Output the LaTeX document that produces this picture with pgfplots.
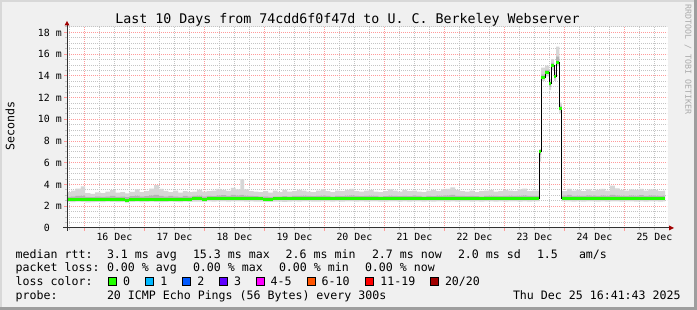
\documentclass[border=0pt]{standalone}
\usepackage{fontspec}
\setmainfont{DejaVu Sans Mono}
\usepackage{pgfplots}
\pgfplotsset{compat=1.18}
\usepackage{pgfplotstable}
\definecolor{bgc}{HTML}{F0F0F0}
\definecolor{shA}{HTML}{D8D8D8}
\definecolor{shB}{HTML}{9E9E9E}
\definecolor{axc}{HTML}{303030}
\definecolor{arrc}{HTML}{A10000}
\definecolor{mgrid}{HTML}{FF9A9A}
\definecolor{ngrid}{HTML}{C4C4C4}
\definecolor{smokeA}{HTML}{D6D6D6}
\definecolor{smokeB}{HTML}{B4B4B4}
\definecolor{lgreen}{HTML}{22FF00}
\definecolor{lc1}{HTML}{00B8FF}
\definecolor{lc2}{HTML}{0059FF}
\definecolor{lc3}{HTML}{5E00FF}
\definecolor{lc4}{HTML}{FF00FF}
\definecolor{lc5}{HTML}{FF5500}
\definecolor{lc6}{HTML}{FF0000}
\definecolor{lc7}{HTML}{A10000}
\definecolor{wmc}{HTML}{ABABAB}
\newcommand\lfont{\fontsize{11.6}{13}\selectfont}
\newcommand\tfont{\fontsize{9.9}{11}\selectfont}
\newcommand\ttlfont{\fontsize{13.3}{15}\selectfont}

\pgfplotstableread{
x lo q1 q3 hi med
-0.29 2.40 2.52 2.86 3.30 2.63
-0.22 2.38 2.53 2.92 3.45 2.62
-0.15 2.42 2.55 2.95 3.62 2.64
-0.06 2.40 2.54 2.98 3.82 2.63
0.01 2.36 2.52 2.88 3.20 2.62
0.10 2.38 2.54 2.84 3.15 2.63
0.18 2.41 2.55 2.90 3.28 2.63
0.27 2.37 2.53 2.86 3.22 2.62
0.35 2.42 2.56 2.92 3.35 2.64
0.43 2.40 2.55 2.95 3.48 2.64
0.52 2.38 2.54 2.87 3.25 2.63
0.60 2.41 2.56 2.90 3.30 2.64
0.68 2.33 2.50 2.85 3.18 2.55
0.75 2.40 2.55 2.93 3.32 2.64
0.84 2.42 2.57 2.98 3.55 2.65
0.92 2.39 2.55 2.90 3.30 2.63
1.00 2.41 2.56 2.94 3.40 2.64
1.08 2.42 2.57 3.00 3.62 2.65
1.16 2.41 2.57 3.05 3.95 2.65
1.24 2.39 2.56 2.95 3.60 2.64
1.32 2.40 2.57 2.92 3.42 2.65
1.40 2.42 2.58 2.96 3.30 2.65
1.48 2.40 2.57 2.90 3.45 2.64
1.56 2.38 2.55 2.88 3.25 2.63
1.64 2.42 2.58 2.96 3.40 2.66
1.72 2.40 2.57 2.92 3.30 2.65
1.80 2.43 2.59 2.95 3.35 2.67
1.88 2.42 2.60 2.98 3.50 2.68
1.96 2.40 2.58 2.92 3.35 2.66
2.04 2.44 2.60 2.96 3.40 2.68
2.12 2.42 2.59 2.94 3.45 2.67
2.20 2.44 2.61 3.00 3.60 2.69
2.28 2.45 2.62 3.02 3.50 2.70
2.36 2.43 2.60 2.96 3.42 2.68
2.44 2.45 2.62 3.05 3.70 2.70
2.52 2.44 2.61 3.00 3.55 2.69
2.60 2.45 2.62 3.08 4.50 2.70
2.66 2.42 2.60 2.98 3.55 2.69
2.74 2.44 2.61 2.96 3.40 2.70
2.82 2.43 2.60 2.94 3.35 2.68
2.90 2.42 2.59 2.92 3.30 2.67
2.98 2.40 2.58 2.90 3.40 2.66
3.06 2.41 2.58 2.88 3.25 2.66
3.14 2.42 2.59 2.92 3.45 2.67
3.22 2.43 2.60 2.90 3.30 2.68
3.30 2.41 2.59 2.94 3.50 2.67
3.38 2.43 2.60 2.92 3.35 2.68
3.46 2.44 2.61 2.95 3.40 2.69
3.54 2.42 2.60 2.96 3.50 2.68
3.62 2.44 2.62 2.98 3.45 2.70
3.70 2.45 2.62 2.95 3.35 2.70
3.78 2.43 2.61 2.93 3.30 2.69
3.86 2.42 2.60 2.96 3.45 2.68
3.94 2.44 2.61 2.98 3.55 2.69
4.02 2.45 2.62 2.95 3.40 2.70
4.10 2.43 2.61 2.92 3.30 2.69
4.18 2.44 2.62 2.96 3.45 2.70
4.26 2.42 2.60 2.94 3.40 2.68
4.34 2.44 2.61 2.97 3.50 2.69
4.42 2.45 2.62 3.00 3.60 2.70
4.50 2.43 2.61 2.95 3.40 2.69
4.58 2.44 2.62 2.93 3.35 2.70
4.66 2.42 2.60 2.96 3.45 2.68
4.74 2.44 2.61 2.98 3.50 2.69
4.82 2.45 2.62 2.95 3.35 2.70
4.90 2.43 2.61 2.92 3.30 2.69
4.98 2.42 2.60 2.94 3.40 2.68
5.06 2.44 2.61 2.97 3.55 2.69
5.14 2.45 2.62 2.95 3.45 2.70
5.22 2.43 2.61 2.93 3.35 2.69
5.30 2.44 2.62 2.96 3.50 2.70
5.38 2.42 2.60 2.94 3.40 2.68
5.46 2.44 2.61 2.98 3.45 2.69
5.54 2.45 2.62 2.95 3.35 2.70
5.62 2.43 2.61 2.92 3.30 2.69
5.70 2.44 2.62 2.96 3.45 2.70
5.78 2.42 2.60 2.94 3.50 2.68
5.86 2.44 2.61 2.97 3.40 2.69
5.94 2.45 2.62 2.99 3.55 2.70
6.02 2.43 2.61 3.00 3.60 2.69
6.10 2.44 2.62 3.05 3.75 2.70
6.18 2.42 2.60 2.96 3.50 2.68
6.26 2.44 2.61 2.95 3.40 2.69
6.34 2.45 2.62 2.93 3.35 2.70
6.42 2.43 2.61 2.96 3.45 2.69
6.50 2.44 2.62 2.94 3.30 2.70
6.58 2.42 2.60 2.92 3.40 2.68
6.66 2.44 2.61 2.96 3.45 2.69
6.74 2.45 2.62 2.98 3.50 2.70
6.82 2.43 2.61 2.95 3.35 2.69
6.90 2.44 2.62 2.93 3.40 2.70
6.98 2.42 2.60 2.96 3.50 2.68
7.06 2.44 2.61 2.98 3.45 2.69
7.14 2.45 2.62 2.95 3.40 2.70
7.22 2.43 2.61 2.97 3.55 2.69
7.30 2.44 2.62 3.00 3.62 2.70
7.38 2.42 2.60 2.95 3.40 2.68
7.46 2.44 2.61 2.96 3.45 2.69
7.583 6.10 6.70 7.05 7.25 7.05
7.612 13.55 13.75 14.15 14.75 13.88
7.678 13.95 14.15 14.55 14.95 14.30
7.745 12.70 13.00 13.45 13.70 13.28
7.778 14.55 14.80 15.20 15.55 14.95
7.828 13.55 13.75 14.10 14.40 13.90
7.862 14.90 15.15 15.80 16.70 15.26
7.917 10.55 10.85 11.25 11.55 11.04
7.957 2.44 2.61 2.98 3.40 2.70
8.04 2.45 2.62 3.05 3.60 2.71
8.12 2.43 2.61 2.96 3.45 2.70
8.20 2.44 2.62 2.98 3.50 2.70
8.28 2.42 2.60 2.95 3.40 2.69
8.36 2.44 2.62 3.00 3.55 2.70
8.44 2.45 2.62 2.98 3.45 2.71
8.52 2.43 2.61 2.96 3.50 2.70
8.60 2.44 2.62 3.00 3.60 2.70
8.68 2.42 2.60 2.97 3.45 2.69
8.76 2.45 2.63 3.05 3.90 2.71
8.84 2.44 2.62 3.00 3.65 2.70
8.92 2.43 2.61 2.98 3.50 2.70
9.00 2.44 2.62 2.96 3.45 2.70
9.08 2.45 2.62 3.00 3.55 2.71
9.16 2.43 2.61 2.97 3.50 2.70
9.24 2.44 2.62 3.02 3.60 2.70
9.32 2.42 2.60 2.96 3.45 2.69
9.40 2.45 2.62 3.00 3.55 2.71
9.48 2.44 2.62 2.98 3.50 2.70
9.56 2.43 2.61 2.96 3.40 2.70
9.64 2.44 2.62 2.98 3.45 2.70
9.68 2.44 2.62 2.98 3.45 2.70
}\smoke

\pgfplotsset{geom/.style={at={(67pt,82pt)}, anchor=south west, scale only axis,
  width=600pt, height=201pt, xmin=-0.29, xmax=9.71, ymin=0, ymax=18.5}}

\begin{document}
\begin{tikzpicture}
\useasboundingbox (0pt,0pt) rectangle (697pt,310pt);
\fill[bgc] (0pt,0pt) rectangle (697pt,310pt);
\fill[shA] (0pt,308pt) rectangle (697pt,310pt);
\fill[shA] (0pt,0pt) rectangle (2pt,310pt);
\fill[shB] (0pt,0pt) rectangle (697pt,3pt);
\fill[shB] (694pt,0pt) rectangle (697pt,310pt);
\fill[white] (67pt,82pt) rectangle (668pt,283pt);

\begin{axis}[
  geom,
  axis x line*=bottom, axis y line*=left,
  axis line style={draw=none},
  tick align=outside,
  major tick length=3pt, minor tick length=2pt,
  xtick={0,1,2,3,4,5,6,7,8,9}, xticklabels={},
  minor xtick={-0.25,0.25,0.5,0.75,1.25,1.5,1.75,2.25,2.5,2.75,3.25,3.5,3.75,4.25,4.5,4.75,5.25,5.5,5.75,6.25,6.5,6.75,7.25,7.5,7.75,8.25,8.5,8.75,9.25,9.5},
  extra x ticks={0.5,1.5,2.5,3.5,4.5,5.5,6.5,7.5,8.5,9.5},
  extra x tick labels={16 Dec,17 Dec,18 Dec,19 Dec,20 Dec,21 Dec,22 Dec,23 Dec,24 Dec,25 Dec},
  extra x tick style={grid=none, major tick length=0pt},
  xticklabel style={font=\tfont, anchor=base, inner sep=0pt, yshift=-12.7pt},
  ytick={0,2,4,6,8,10,12,14,16,18},
  yticklabels={0\phantom{ m},2 m,4 m,6 m,8 m,10 m,12 m,14 m,16 m,18 m},
  minor ytick={0.5,1,1.5,2.5,3,3.5,4.5,5,5.5,6.5,7,7.5,8.5,9,9.5,10.5,11,11.5,12.5,13,13.5,14.5,15,15.5,16.5,17,17.5,18.5},
  yticklabel style={font=\tfont, anchor=east, inner sep=0pt, xshift=-2pt},
  xmajorgrids=true, xminorgrids=true, ymajorgrids=true, yminorgrids=true,
  major grid style={mgrid, line width=1pt, dash pattern=on 1pt off 1pt},
  minor grid style={ngrid, line width=1pt, dash pattern=on 1pt off 1pt},
  every major tick/.append style={mgrid, line width=1pt},
  every minor tick/.append style={ngrid, line width=1pt},
  stack plots=y,
]
\addplot[draw=none, const plot mark left, mark=none, forget plot] table[x=x, y=lo] {\smoke};
\addplot[fill=smokeA, draw=none, const plot mark left, mark=none, forget plot] table[x=x, y expr=\thisrow{q1}-\thisrow{lo}] {\smoke} \closedcycle;
\addplot[fill=smokeB, draw=none, const plot mark left, mark=none, forget plot] table[x=x, y expr=\thisrow{q3}-\thisrow{q1}] {\smoke} \closedcycle;
\addplot[fill=smokeA, draw=none, const plot mark left, mark=none, forget plot] table[x=x, y expr=\thisrow{hi}-\thisrow{q3}] {\smoke} \closedcycle;
\end{axis}

\begin{axis}[geom, hide axis]
\addplot[black, line width=1pt, const plot mark left, mark=none] table[x=x, y=med] {\smoke};
\addplot[lgreen, line width=3pt, jump mark left, mark=none, line cap=butt] table[x=x, y=med] {\smoke};
\end{axis}

% axes with arrows
\draw[axc, line width=1pt] (63pt,82pt) -- (669pt,82pt);
\fill[arrc] (669pt,79.5pt) -- (674pt,82pt) -- (669pt,84.5pt) -- cycle;
\draw[axc, line width=1pt] (67pt,79pt) -- (67pt,285pt);
\fill[arrc] (64.5pt,284.5pt) -- (67pt,289pt) -- (69.5pt,284.5pt) -- cycle;

% title
\node[anchor=base, inner sep=0pt, font=\ttlfont] at (347.5pt,286pt) {Last 10 Days from 74cdd6f0f47d to U. C. Berkeley Webserver};
% y label
\node[rotate=90, inner sep=0pt, font=\lfont] at (10pt,184pt) {Seconds};
% watermark
\node[rotate=-90, inner sep=0pt, font=\fontsize{8.3}{9}\selectfont, text=wmc] at (688pt,250.5pt) {RRDTOOL / TOBI OETIKER};

% legend
\begin{scope}[every node/.style={anchor=base west, inner sep=0pt, font=\lfont}]
\node at (15.5pt,51.7pt) {median rtt:};
\node at (106.8pt,51.7pt) {3.1 ms avg};
\node at (192.8pt,51.7pt) {15.3 ms max};
\node at (285.5pt,51.7pt) {2.6 ms min};
\node at (371.8pt,51.7pt) {2.7 ms now};
\node at (457.8pt,51.7pt) {2.0 ms sd};
\node at (536.8pt,51.7pt) {1.5};
\node at (578.8pt,51.7pt) {am/s};
\node at (15.5pt,38pt) {packet loss:};
\node at (106.8pt,38pt) {0.00 \% avg};
\node at (192.8pt,38pt) {0.00 \% max};
\node at (278.8pt,38pt) {0.00 \% min};
\node at (364.8pt,38pt) {0.00 \% now};
\node at (15.5pt,24.3pt) {loss color:};
\node at (122.8pt,24.3pt) {0};
\node at (160.2pt,24.3pt) {1};
\node at (197.2pt,24.3pt) {2};
\node at (233.8pt,24.3pt) {3};
\node at (270.5pt,24.3pt) {4-5};
\node at (321.5pt,24.3pt) {6-10};
\node at (380.2pt,24.3pt) {11-19};
\node at (444.8pt,24.3pt) {20/20};
\node at (15.5pt,10.5pt) {probe:};
\node at (106.8pt,10.5pt) {20 ICMP Echo Pings (56 Bytes) every 300s};
\node at (512.8pt,10.5pt) {Thu Dec 25 16:41:43 2025};
\end{scope}
\foreach \bx/\bc in {108.5/lgreen,145.8/lc1,182.8/lc2,219.8/lc3,256.8/lc4,307.2/lc5,365.8/lc6,430.8/lc7}{
  \filldraw[fill=\bc, draw=black, line width=1pt] (\bx pt,24pt) rectangle ++(8pt,8pt);
}
\end{tikzpicture}
\end{document}
